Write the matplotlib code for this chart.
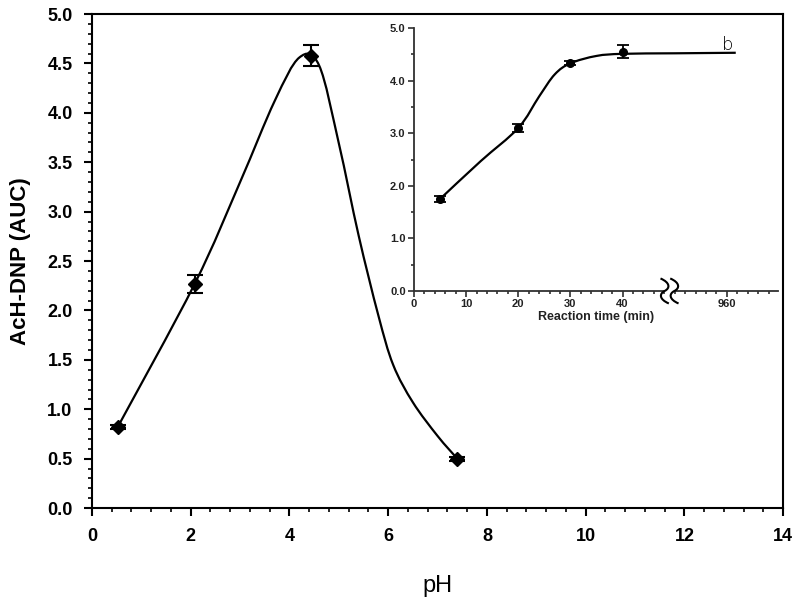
import numpy as np
import matplotlib
matplotlib.use("Agg")
import matplotlib.pyplot as plt
from matplotlib.path import Path
from matplotlib.patches import PathPatch, Rectangle
import matplotlib.transforms as mtransforms
from matplotlib.ticker import MultipleLocator, FixedLocator

plt.rcParams['font.family'] = ['Liberation Sans', 'DejaVu Sans']

# ---- main panel data (pH study) ----
ph = [0.52, 2.08, 4.44, 7.40]
auc = [0.82, 2.27, 4.58, 0.50]
auc_err = [0.02, 0.09, 0.11, 0.02]
# fitted curve
fit_ph = [0.52, 2.08, 3.00, 3.70, 4.20, 4.60, 5.00, 5.40, 5.80, 6.10, 6.50, 7.00, 7.40]
fit_auc = [0.82, 2.27, 3.30, 4.12, 4.56, 4.48, 3.69, 2.76, 1.95, 1.45, 1.07, 0.73, 0.50]
main_xticks = [0, 2, 4, 6, 8, 10, 12, 14]
main_yticks = [0.0, 0.5, 1.0, 1.5, 2.0, 2.5, 3.0, 3.5, 4.0, 4.5, 5.0]

# ---- inset data (reaction time) ----
# x positions on the broken axis; "960" min sits at position 60
t_pos = [5, 20, 30, 40]
t_auc = [1.75, 3.10, 4.33, 4.55]
t_err = [0.06, 0.08, 0.04, 0.12]
fit_t = [5, 12.8, 20, 24, 27, 30, 35, 40, 50, 61.7]
fit_t_auc = [1.75, 2.47, 3.10, 3.70, 4.12, 4.33, 4.47, 4.51, 4.52, 4.53]
inset_xtick_pos = [0, 10, 20, 30, 40, 60]
inset_xtick_lab = ['0', '10', '20', '30', '40', '960']
inset_yticks = [0.0, 1.0, 2.0, 3.0, 4.0, 5.0]


def smooth_patch(x, y, trans, color, lw):
    p = np.column_stack([x, y]).astype(float)
    n = len(p)
    verts = [p[0]]
    codes = [Path.MOVETO]
    for i in range(n - 1):
        p0 = p[i - 1] if i > 0 else p[i]
        p1 = p[i]
        p2 = p[i + 1]
        p3 = p[i + 2] if i + 2 < n else p[i + 1]
        c1 = p1 + (p2 - p0) / 6.0
        c2 = p2 - (p3 - p1) / 6.0
        verts += [c1, c2, p2]
        codes += [Path.CURVE4] * 3
    return PathPatch(Path(verts, codes), facecolor='none', edgecolor=color,
                     lw=lw, transform=trans, zorder=2)


fig = plt.figure(figsize=(8.0, 6.1), dpi=100)
ax = fig.add_axes([0.115, 0.167, 0.864, 0.810])
ax.set_xlim(0, 14)
ax.set_ylim(0, 5.0)
ax.add_patch(smooth_patch(fit_ph, fit_auc, ax.transData, 'black', 1.6))
ax.errorbar(ph, auc, yerr=auc_err, fmt='D', color='black', ms=7.5, capsize=6,
            elinewidth=1.5, capthick=1.5, zorder=3)
ax.set_xticks(main_xticks)
ax.set_yticks(main_yticks)
ax.set_xticklabels([str(v) for v in main_xticks], fontsize=13, fontweight='bold')
ax.set_yticklabels([f'{v:.1f}' for v in main_yticks], fontsize=13, fontweight='bold')
ax.xaxis.set_minor_locator(MultipleLocator(0.4))
ax.yaxis.set_minor_locator(MultipleLocator(0.1))
ax.tick_params(which='major', direction='out', length=6, width=1.5, pad=8)
ax.tick_params(which='minor', direction='out', length=3, width=1.2)
ax.tick_params(top=False, right=False, which='both')
for s in ax.spines.values():
    s.set_linewidth(1.5)
ax.set_xlabel('pH', fontsize=17, labelpad=22)
ax.set_ylabel('AcH-DNP (AUC)', fontsize=16, fontweight='bold', labelpad=12)

# ---- inset ----
ax2 = fig.add_axes([0.5175, 0.523, 0.455, 0.431])
ax2.set_xlim(0, 69.8)
ax2.set_ylim(0, 5.0)
ax2.spines['top'].set_visible(False)
ax2.spines['right'].set_visible(False)
gray = '#303030'
for s in ['left', 'bottom']:
    ax2.spines[s].set_linewidth(1.3)
    ax2.spines[s].set_color(gray)
ax2.add_patch(smooth_patch(fit_t, fit_t_auc, ax2.transData, 'black', 1.6))
ax2.errorbar(t_pos, t_auc, yerr=t_err, fmt='o', color='black', ms=5.5, capsize=4,
             elinewidth=1.3, capthick=1.3, zorder=3)
ax2.xaxis.set_major_locator(FixedLocator(inset_xtick_pos))
ax2.set_xticklabels(inset_xtick_lab, fontsize=8, fontweight='bold', color='#222222')
ax2.xaxis.set_minor_locator(MultipleLocator(2))
ax2.set_yticks(inset_yticks)
ax2.set_yticklabels([f'{v:.1f}' for v in inset_yticks], fontsize=8, fontweight='bold', color='#222222')
ax2.yaxis.set_minor_locator(MultipleLocator(0.5))
ax2.tick_params(which='major', direction='out', length=4, width=1.2, color=gray, pad=2)
ax2.tick_params(which='minor', direction='out', length=2, width=1.2, color=gray)
ax2.set_xlabel('Reaction time (min)', fontsize=9, fontweight='bold', color='#222222', labelpad=1)
ax2.patch.set_alpha(0)
ax2.text(60.2, 4.5, 'b', fontsize=13, color='black', ha='center', va='bottom',
         family='DejaVu Sans', fontweight='light')

# axis break symbol
bx, by = ax2.transData.transform((49.0, 0.0))
pt = fig.dpi / 72.0
tr = mtransforms.Affine2D().scale(pt).translate(bx, by)
ax2.add_patch(Rectangle((-3.5, -3), 7, 6, transform=tr, facecolor='white',
                        edgecolor='none', zorder=5, clip_on=False))
for dx in (-3.5, 3.5):
    verts = [(dx - 3, 9), (dx + 4, 6), (dx + 4, 2), (dx, 0),
             (dx - 4, -2), (dx - 4, -6), (dx + 3, -9)]
    codes = [Path.MOVETO] + [Path.CURVE4] * 6
    ax2.add_patch(PathPatch(Path(verts, codes), facecolor='none', edgecolor='black',
                            lw=1.5, transform=tr, zorder=6, clip_on=False))

fig.savefig('out.png', dpi=100)
